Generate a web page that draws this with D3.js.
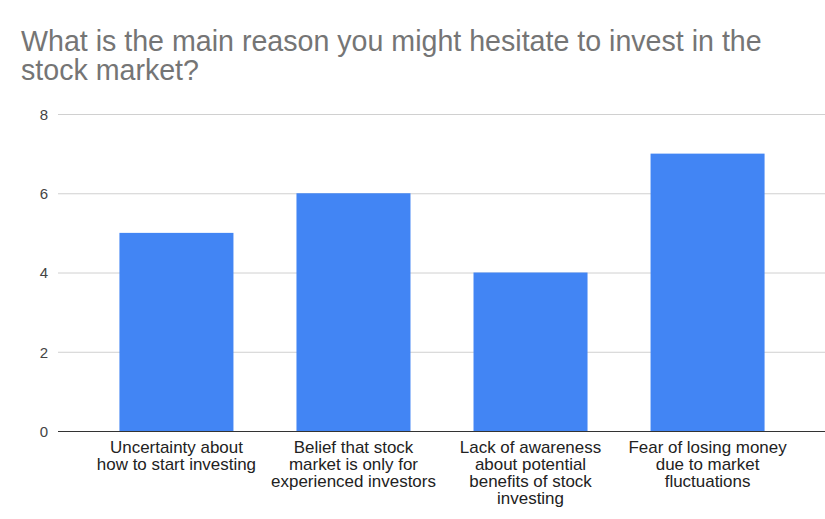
<!DOCTYPE html>
<html>
<head>
<meta charset="utf-8">
<script src="https://cdn.jsdelivr.net/npm/d3@7"></script>
<style>
  html, body { margin: 0; padding: 0; background: #fff; }
  svg { display: block; }
</style>
</head>
<body>
<svg id="chart" width="825" height="519"></svg>
<script>
// Survey responses: reasons for hesitating to invest
const categories = [
  ["Uncertainty about", "how to start investing"],
  ["Belief that stock", "market is only for", "experienced investors"],
  ["Lack of awareness", "about potential", "benefits of stock", "investing"],
  ["Fear of losing money", "due to market", "fluctuations"]
];
const counts = [5, 6, 4, 7];
const yTicks = [0, 2, 4, 6, 8];
const titleLines = [
  "What is the main reason you might hesitate to invest in the",
  "stock market?"
];

const svg = d3.select("#chart");
const font = "'Liberation Sans', Arial, sans-serif";

const plot = { left: 58, right: 826, top: 114, bottom: 431 };

const x = d3.scaleBand()
  .domain(d3.range(counts.length))
  .range([plot.left, plot.right])
  .paddingInner(0.356)
  .paddingOuter(0.347);

const y = d3.scaleLinear()
  .domain([0, 8])
  .range([plot.bottom, plot.top]);

// Title
svg.append("g")
  .selectAll("text")
  .data(titleLines)
  .join("text")
  .attr("x", 21)
  .attr("y", (d, i) => 51 + i * 29)
  .attr("font-family", font)
  .attr("font-size", 28.6)
  .attr("fill", "#757575")
  .text(d => d);

// Gridlines
svg.append("g")
  .selectAll("line")
  .data(yTicks.filter(t => t !== 0))
  .join("line")
  .attr("x1", plot.left)
  .attr("x2", 825)
  .attr("y1", d => y(d) + 0.5)
  .attr("y2", d => y(d) + 0.5)
  .attr("stroke", "#d0d0d0")
  .attr("stroke-width", 1);

// Y axis labels
const yAxis = d3.axisLeft(y).tickValues(yTicks).tickSize(0).tickPadding(0);
const gy = svg.append("g")
  .attr("transform", `translate(${plot.left - 10},0)`)
  .call(yAxis);
gy.select(".domain").remove();
gy.selectAll("text")
  .attr("font-family", font)
  .attr("font-size", 15)
  .attr("fill", "#444")
  .attr("text-anchor", "end")
  .attr("dy", "0.35em");

// Bars
svg.append("g")
  .selectAll("rect")
  .data(counts)
  .join("rect")
  .attr("x", (d, i) => x(i))
  .attr("width", x.bandwidth())
  .attr("y", d => y(d))
  .attr("height", d => y(0) - y(d))
  .attr("fill", "#4285f4");

// Baseline
svg.append("line")
  .attr("x1", plot.left)
  .attr("x2", 825)
  .attr("y1", y(0) + 0.5)
  .attr("y2", y(0) + 0.5)
  .attr("stroke", "#333")
  .attr("stroke-width", 1);

// Category labels (slightly widened glyphs, tight line spacing)
const labels = svg.append("g")
  .selectAll("text")
  .data(categories)
  .join("text")
  .attr("text-anchor", "middle")
  .attr("font-family", font)
  .attr("font-size", 15)
  .attr("fill", "#222")
  .attr("transform", (d, i) => `translate(${x(i) + x.bandwidth() / 2},${y(0) + 22}) scale(1.13,1.05)`);

labels.selectAll("tspan")
  .data(d => d)
  .join("tspan")
  .attr("x", 0)
  .attr("y", (d, i) => i * 16.2)
  .text(d => d);
</script>
</body>
</html>
